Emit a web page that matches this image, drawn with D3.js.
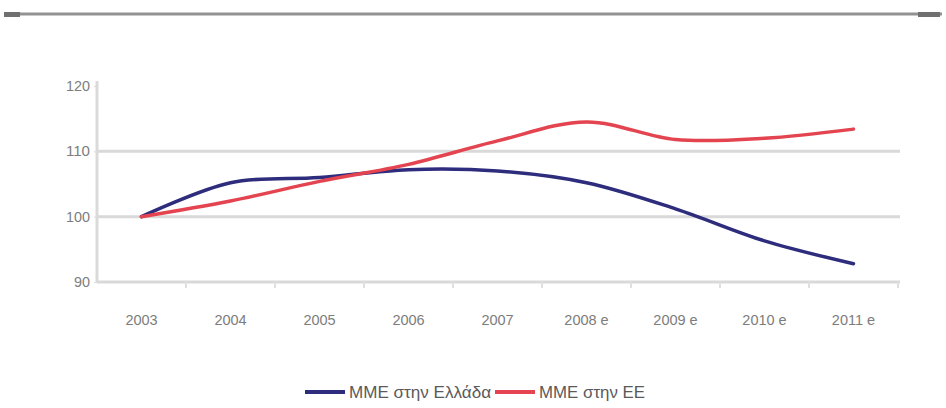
<!DOCTYPE html>
<html>
<head>
<meta charset="utf-8">
<script src="https://cdn.jsdelivr.net/npm/d3@7"></script>
<style>
  html, body { margin: 0; padding: 0; background: #fff; }
  svg { display: block; }
  text { font-family: "Liberation Sans", Arial, sans-serif; }
</style>
</head>
<body>
<svg id="chart" width="946" height="408"></svg>
<script>
// Index values (2003 = 100)
const years = ["2003", "2004", "2005", "2006", "2007", "2008 e", "2009 e", "2010 e", "2011 e"];
const greece = [100, 105.2, 106.0, 107.2, 107.0, 105.2, 101.2, 96.3, 92.8];
const eu = [100, 102.4, 105.4, 108.0, 111.6, 114.5, 111.8, 112.0, 113.4];
const yTicks = [90, 100, 110, 120];
const gridValues = [100, 110];
const seriesNames = ["ΜΜΕ στην Ελλάδα", "ΜΜΕ στην ΕΕ"];
const seriesColors = ["#2e2c7c", "#e3444f"];

const svg = d3.select("#chart");

// top rule
svg.append("line").attr("x1", 4).attr("x2", 942).attr("y1", 14).attr("y2", 14)
  .attr("stroke", "#929292").attr("stroke-width", 3);
svg.append("rect").attr("x", 4).attr("y", 12).attr("width", 16).attr("height", 5).attr("fill", "#707070");
svg.append("rect").attr("x", 918).attr("y", 12).attr("width", 22).attr("height", 5).attr("fill", "#707070");

const plotLeft = 97, plotRight = 898, plotTop = 86, plotBottom = 282;

const x = d3.scaleBand().domain(years).range([plotLeft, plotRight]);
const y = d3.scaleLinear().domain([90, 120]).range([plotBottom, plotTop]);
const cx = d => x(d) + x.bandwidth() / 2;

const labelFont = 14.5;
const labelColor = "#7d7d7d";

// gridlines
svg.append("g").selectAll("line").data(gridValues).join("line")
  .attr("x1", plotLeft).attr("x2", plotRight + 2)
  .attr("y1", d => y(d)).attr("y2", d => y(d))
  .attr("stroke", "#d9d9d9").attr("stroke-width", 3);

// y axis
const yAxis = svg.append("g").attr("transform", `translate(${plotLeft},0)`)
  .call(d3.axisLeft(y).tickValues(yTicks).tickSize(3).tickPadding(4));
yAxis.select(".domain").attr("stroke", "#dadada").attr("stroke-width", 3)
  .attr("d", `M0,${plotTop - 5}V${plotBottom}`);
yAxis.selectAll(".tick line").attr("stroke", "#dadada");
yAxis.selectAll(".tick text").attr("fill", labelColor).attr("font-size", labelFont)
  .attr("textLength", d => String(d).length === 3 ? 24 : 16).attr("lengthAdjust", "spacingAndGlyphs");

// x axis
const xAxis = svg.append("g").attr("transform", `translate(0,${plotBottom})`)
  .call(d3.axisBottom(x).tickSize(0).tickPadding(33));
xAxis.select(".domain").attr("stroke", "#d9d9d9").attr("stroke-width", 3)
  .attr("d", `M${plotLeft},0H${plotRight + 2}`);
xAxis.selectAll(".tick text").attr("fill", labelColor).attr("font-size", labelFont);
// boundary ticks between categories
svg.append("g").selectAll("line").data(years.slice(1).concat(["end"])).join("line")
  .attr("x1", d => d === "end" ? plotRight : x(d)).attr("x2", d => d === "end" ? plotRight : x(d))
  .attr("y1", plotBottom).attr("y2", plotBottom + 6)
  .attr("stroke", "#e0e0e0").attr("stroke-width", 2);

// lines
const line = d3.line()
  .x((d, i) => cx(years[i]))
  .y(d => y(d))
  .curve(d3.curveCatmullRom.alpha(0.5));

[greece, eu].forEach((vals, k) => {
  svg.append("path").datum(vals)
    .attr("fill", "none")
    .attr("stroke", seriesColors[k])
    .attr("stroke-width", 3.5)
    .attr("stroke-linecap", "round")
    .attr("d", line);
});

// legend
const legend = svg.append("g").attr("transform", "translate(305,392)");
const legendX = [0, 190];
const legendTextWidth = [142, 106];
seriesNames.forEach((name, k) => {
  const g = legend.append("g").attr("transform", `translate(${legendX[k]},0)`);
  g.append("line").attr("x1", 0).attr("x2", 40).attr("y1", 0).attr("y2", 0)
    .attr("stroke", seriesColors[k]).attr("stroke-width", 4);
  g.append("text").attr("x", 44).attr("y", 6).attr("font-size", 16)
    .attr("textLength", legendTextWidth[k]).attr("lengthAdjust", "spacingAndGlyphs")
    .attr("fill", "#5a5a5a").text(name);
});
</script>
</body>
</html>
